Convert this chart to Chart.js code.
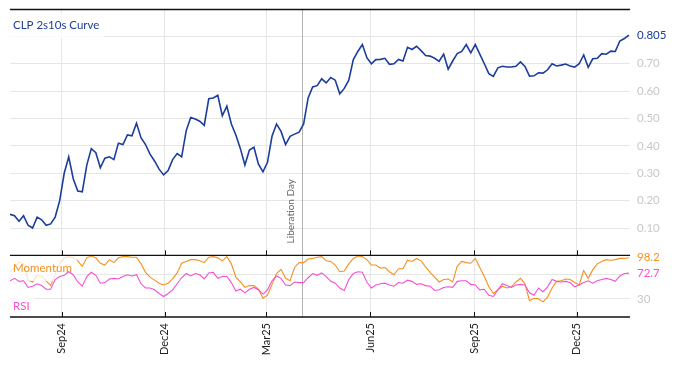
<!DOCTYPE html>
<html>
<head>
<meta charset="utf-8">
<script src="https://cdn.jsdelivr.net/npm/chart.js@4.4.1/dist/chart.umd.min.js"></script>
<style>
  html, body { margin: 0; padding: 0; background: #fff; }
  #wrap { position: relative; width: 674px; height: 366px; }
</style>
</head>
<body>
<div id="wrap"><canvas id="curveChart" width="674" height="366"></canvas></div>
<script>
// x positions are days after 1 Jul 2024, one sample every 4 days
const FIRST_DAY = 16;
const LAST_DAY = 565;
const STEP_DAYS = 4;
const LIBERATION_DAY = 275; // 2 Apr 2025

const TICK_DAYS = [62, 153, 243, 335, 427, 518];
const TICK_LABELS = ['Sep24', 'Dec24', 'Mar25', 'Jun25', 'Sep25', 'Dec25'];

const CURVE_GRID = [0.1, 0.2, 0.3, 0.4, 0.5, 0.6, 0.7, 0.8];
const OSC_GRID = [30, 70];

const curve = [
  0.150, 0.145, 0.125, 0.145, 0.110, 0.100, 0.140, 0.130, 0.110, 0.115,
  0.140, 0.200, 0.300, 0.360, 0.280, 0.235, 0.232, 0.330, 0.390, 0.375,
  0.320, 0.355, 0.360, 0.350, 0.410, 0.405, 0.440, 0.437, 0.483, 0.430,
  0.405, 0.370, 0.345, 0.315, 0.294, 0.310, 0.350, 0.372, 0.360, 0.455,
  0.504, 0.498, 0.490, 0.475, 0.572, 0.575, 0.585, 0.510, 0.545, 0.480,
  0.440, 0.390, 0.330, 0.385, 0.395, 0.333, 0.305, 0.340, 0.435, 0.480,
  0.453, 0.405, 0.435, 0.443, 0.450, 0.480, 0.575, 0.615, 0.620, 0.645,
  0.630, 0.650, 0.640, 0.590, 0.610, 0.640, 0.715, 0.745, 0.770, 0.722,
  0.700, 0.715, 0.716, 0.720, 0.698, 0.700, 0.716, 0.710, 0.760, 0.752,
  0.764, 0.748, 0.730, 0.728, 0.720, 0.709, 0.735, 0.680, 0.710, 0.737,
  0.745, 0.770, 0.740, 0.770, 0.735, 0.700, 0.664, 0.654, 0.685, 0.691,
  0.688, 0.688, 0.691, 0.707, 0.690, 0.655, 0.656, 0.667, 0.666, 0.678,
  0.700, 0.692, 0.695, 0.699, 0.692, 0.688, 0.700, 0.732, 0.687, 0.718,
  0.720, 0.737, 0.735, 0.746, 0.745, 0.783, 0.792, 0.805
];

const momentum = [
  74, 82, 91, 88, 61, 58, 69, 67, 60, 52,
  71, 88, 98, 100, 98, 93, 84, 98, 101, 98,
  89, 86, 95, 90, 98, 100, 100, 99, 99, 88,
  74, 66, 61, 56, 53, 56, 63, 73, 89, 92,
  95, 95, 93, 90, 99, 100, 98, 93, 100, 88,
  66, 58, 49, 52, 52, 46, 31, 36, 54, 72,
  79, 64, 60, 82, 90, 90, 96, 97, 99, 100,
  93, 92, 86, 75, 76, 88, 97, 101, 100, 95,
  86, 86, 81, 82, 75, 70, 80, 80, 94, 92,
  97, 93, 83, 74, 66, 58, 62, 63, 58, 84,
  92, 90, 89, 97, 82, 67, 50, 39, 45, 51,
  48, 50, 58, 64, 55, 27, 31, 30, 25, 33,
  48, 59, 60, 63, 62, 57, 53, 77, 64, 78,
  88, 92, 95, 94, 95, 97, 97, 98.2
];

const rsi = [
  60, 64, 59, 60, 49, 51, 55, 52, 46, 46,
  62, 67, 69, 75, 70, 58, 51, 67, 74, 69,
  56, 57, 63, 64, 63, 67, 70, 68, 70, 55,
  48, 48, 45, 39, 34, 39, 45, 55, 65, 72,
  68, 72, 70, 63, 73, 74, 64, 67, 67, 57,
  43, 46, 40, 46, 49, 45, 38, 45, 60, 68,
  64, 53, 52, 58, 57, 57, 65, 72, 69, 73,
  67, 59, 56, 48, 44, 62, 72, 75, 74, 58,
  48, 53, 55, 56, 53, 51, 57, 56, 61, 59,
  54, 55, 52, 51, 44, 45, 49, 50, 49, 59,
  60, 60, 54, 53, 45, 46, 36, 34, 45, 55,
  52, 49, 53, 54, 53, 40, 36, 48, 42, 50,
  62, 59, 58, 59, 57, 50, 53, 57, 60, 56,
  60, 62, 64, 62, 59, 68, 72, 72.7
];

const BLUE = '#1c3d9c';
const ORANGE = '#f5901e';
const PINK = '#f54fd4';
const GRID = '#e6e6e6';
const FONT = 'Lato';

const toPoints = arr => arr.map((v, i) => ({ x: FIRST_DAY + i * STEP_DAYS, y: v }));

// keep label overflow from pushing the plot area around
const noPad = s => { s.paddingTop = 0; s.paddingBottom = 0; s.paddingLeft = 0; s.paddingRight = 0; };

function drawTag(ctx, text, color, x, y) {
  ctx.save();
  ctx.font = '11.5px ' + FONT;
  const w = ctx.measureText(text).width;
  ctx.fillStyle = 'rgba(255,255,255,0.75)';
  ctx.fillRect(x - 3, y - 12, w + 8, 25);
  ctx.fillStyle = color;
  ctx.textBaseline = 'middle';
  ctx.textAlign = 'left';
  ctx.fillText(text, x, y);
  ctx.restore();
}

const panelDecor = {
  id: 'panelDecor',
  beforeDatasetsDraw(chart) {
    const { ctx, chartArea, scales } = chart;
    const lx = Math.round(scales.x.getPixelForValue(LIBERATION_DAY)) + 0.5;
    ctx.save();
    ctx.strokeStyle = '#b4b4b4';
    ctx.lineWidth = 1;
    ctx.beginPath();
    ctx.moveTo(lx, chartArea.top);
    ctx.lineTo(lx, chartArea.bottom);
    ctx.stroke();
    ctx.translate(lx - 12, scales.y.bottom - 12);
    ctx.rotate(-Math.PI / 2);
    ctx.font = '10px ' + FONT;
    ctx.fillStyle = '#666';
    ctx.textAlign = 'left';
    ctx.textBaseline = 'middle';
    ctx.fillText('Liberation Day', 0, 0);
    ctx.restore();
  },
  afterDatasetDraw(chart, args) {
    // momentum is drawn first, then its tag, then RSI over it
    if (args.index !== 2) return;
    drawTag(chart.ctx, 'Momentum', ORANGE, chart.chartArea.left + 3, chart.scales.y2.top + 12.5);
  },
  afterDraw(chart) {
    const { ctx, chartArea, scales } = chart;
    const left = chartArea.left, right = chartArea.right;
    const yTop = Math.round(chartArea.top) + 0.5;
    const yMid = scales.y2.top;
    const yBot = chartArea.bottom;

    drawTag(ctx, 'CLP 2s10s Curve', BLUE, left + 3, yTop + 15.5);
    drawTag(ctx, 'RSI', PINK, left + 3, yBot - 11);

    ctx.save();
    ctx.strokeStyle = '#111';
    ctx.lineWidth = 1.3;
    ctx.beginPath();
    [yTop, yMid, yBot].forEach(y => { ctx.moveTo(left, y); ctx.lineTo(right, y); });
    ctx.stroke();

    ctx.lineWidth = 1;
    ctx.beginPath();
    TICK_DAYS.forEach(d => {
      const x = Math.round(scales.x.getPixelForValue(d)) + 0.5;
      ctx.moveTo(x, yMid); ctx.lineTo(x, yMid - 5);
      ctx.moveTo(x, yBot); ctx.lineTo(x, yBot - 5);
    });
    ctx.stroke();

    // last-value labels on the right axis
    ctx.font = '11.5px ' + FONT;
    ctx.textAlign = 'left';
    ctx.textBaseline = 'middle';
    const lx = right + 7;
    ctx.fillStyle = BLUE;
    ctx.fillText(curve[curve.length - 1].toFixed(3), lx, scales.y.getPixelForValue(curve[curve.length - 1]));
    ctx.fillStyle = ORANGE;
    ctx.fillText(momentum[momentum.length - 1].toFixed(1), lx, scales.y2.getPixelForValue(momentum[momentum.length - 1]));
    ctx.fillStyle = PINK;
    ctx.fillText(rsi[rsi.length - 1].toFixed(1), lx, scales.y2.getPixelForValue(rsi[rsi.length - 1]));
    ctx.restore();
  }
};

Chart.defaults.font.family = FONT;
Chart.defaults.font.size = 11;

new Chart(document.getElementById('curveChart'), {
  type: 'line',
  data: {
    datasets: [
      { label: 'CLP 2s10s Curve', data: toPoints(curve), yAxisID: 'y', borderColor: BLUE, borderWidth: 1.6 },
      { label: 'RSI', data: toPoints(rsi), yAxisID: 'y2', borderColor: PINK, borderWidth: 1.1 },
      { label: 'Momentum', data: toPoints(momentum), yAxisID: 'y2', borderColor: ORANGE, borderWidth: 1.1 }
    ]
  },
  options: {
    responsive: false,
    animation: false,
    elements: { point: { radius: 0 }, line: { tension: 0 } },
    layout: { padding: { left: 10, top: 9, right: 0, bottom: 0 } },
    plugins: { legend: { display: false }, tooltip: { enabled: false } },
    scales: {
      x: {
        type: 'linear',
        min: FIRST_DAY,
        max: LAST_DAY,
        afterBuildTicks: s => { s.ticks = TICK_DAYS.map(v => ({ value: v })); },
        afterFit: s => { s.height = 49; noPad(s); },
        grid: { color: GRID, drawTicks: false },
        border: { display: false },
        ticks: {
          autoSkip: false,
          minRotation: 90,
          maxRotation: 90,
          padding: 6,
          color: '#222',
          callback: v => TICK_LABELS[TICK_DAYS.indexOf(v)] || ''
        }
      },
      y: {
        position: 'right',
        stack: 'panes',
        stackWeight: 4,
        min: 0,
        max: 0.9,
        afterBuildTicks: s => { s.ticks = CURVE_GRID.map(v => ({ value: v })); },
        afterFit: s => { s.width = 44; noPad(s); },
        grid: { color: GRID, drawTicks: false },
        border: { display: false },
        ticks: {
          padding: 7,
          color: '#c8c8c8',
          font: { size: 11.5 },
          callback: v => (v < 0.75 ? v.toFixed(2) : '')
        }
      },
      y2: {
        position: 'right',
        stack: 'panes',
        stackWeight: 1,
        min: 0,
        max: 102,
        afterBuildTicks: s => { s.ticks = OSC_GRID.map(v => ({ value: v })); },
        afterFit: s => { s.width = 44; noPad(s); },
        grid: { color: GRID, drawTicks: false },
        border: { display: false },
        ticks: {
          padding: 7,
          color: '#c8c8c8',
          font: { size: 11.5 },
          callback: v => (v === 30 ? '30' : '')
        }
      }
    }
  },
  plugins: [panelDecor]
});
</script>
</body>
</html>
